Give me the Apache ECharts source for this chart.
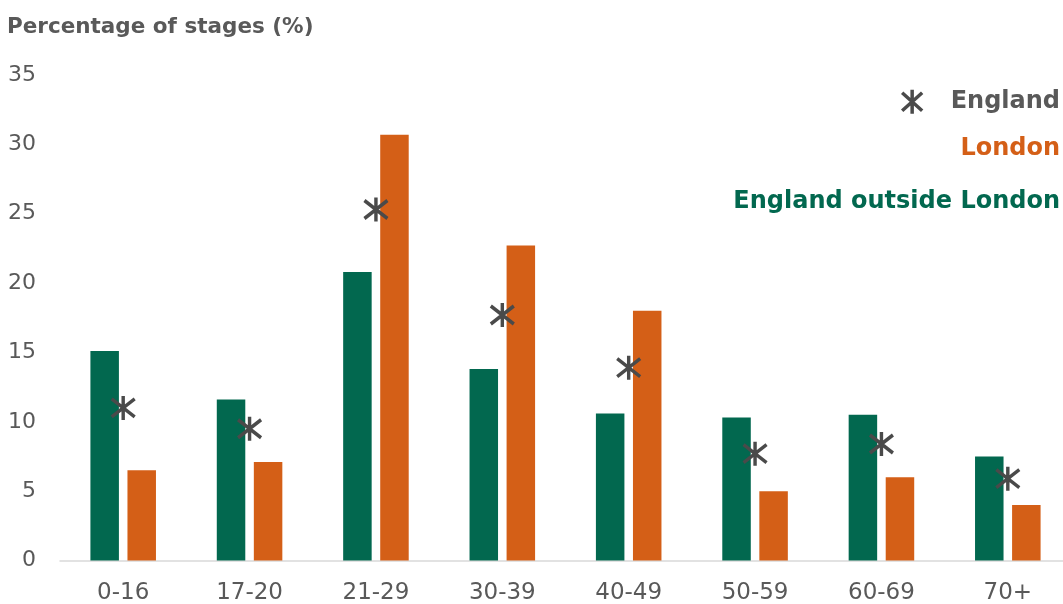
<!DOCTYPE html>
<html>
<head>
<meta charset="utf-8">
<script src="https://cdn.jsdelivr.net/npm/echarts@6/dist/echarts.min.js"></script>
<style>
  html, body { margin: 0; padding: 0; background: #ffffff; }
  #chart { width: 1063px; height: 604px; }
</style>
</head>
<body>
<div id="chart"></div>
<script>
// Age bands of people at each stage
const ageBands = ['0-16', '17-20', '21-29', '30-39', '40-49', '50-59', '60-69', '70+'];

// Share of stages by age band (%)
const outsideLondon = [15.1, 11.6, 20.8, 13.8, 10.6, 10.3, 10.5, 7.5];
const london        = [6.5, 7.1, 30.7, 22.7, 18.0, 5.0, 6.0, 4.0];
const england       = [11.0, 9.5, 25.3, 17.7, 13.9, 7.7, 8.4, 5.9];

// Value axis ticks
const yTicks = [0, 5, 10, 15, 20, 25, 30, 35];

const GREEN = '#02684F';
const ORANGE = '#D45F17';
const GREY = '#4a4a4a';
const TEXT = '#595959';
const FONT = '"DejaVu Sans", "Liberation Sans", sans-serif';

// Asterisk marker: one vertical stroke crossed by two diagonals
const STAR = 'path://M2,3L22,21M22,3L2,21M12,0L12,24';

const chart = echarts.init(document.getElementById('chart'), null, { renderer: 'canvas' });

chart.setOption({
  animation: false,
  backgroundColor: '#ffffff',
  title: {
    text: 'Percentage of stages (%)',
    left: 7,
    top: 15,
    padding: 0,
    textStyle: { color: TEXT, fontFamily: FONT, fontWeight: 'bold', fontSize: 21.5, lineHeight: 24 }
  },
  legend: [
    {
      right: 3, top: 88, padding: 0,
      itemWidth: 23, itemHeight: 24,
      data: [{
        name: 'England',
        icon: STAR,
        itemStyle: { color: 'rgba(0,0,0,0)', borderColor: GREY, borderWidth: 3.5 }
      }],
      textStyle: { color: TEXT, fontFamily: FONT, fontWeight: 'bold', fontSize: 24, lineHeight: 24, padding: [0, 0, 0, 22] }
    },
    {
      right: 3, top: 137, padding: 0,
      itemWidth: 0, itemHeight: 24,
      data: [{ name: 'London', icon: 'none' }],
      textStyle: { color: ORANGE, fontFamily: FONT, fontWeight: 'bold', fontSize: 24, lineHeight: 24 }
    },
    {
      right: 3, top: 190, padding: 0,
      itemWidth: 0, itemHeight: 24,
      data: [{ name: 'England outside London', icon: 'none' }],
      textStyle: { color: GREEN, fontFamily: FONT, fontWeight: 'bold', fontSize: 24, lineHeight: 24 }
    }
  ],
  grid: { left: 60, width: 1011, top: 75, height: 485.5, containLabel: false, outerBoundsMode: 'none' },
  xAxis: {
    type: 'category',
    data: ageBands,
    axisTick: { show: false },
    axisLine: { show: true, lineStyle: { color: '#d9d9d9', width: 1.5 } },
    axisLabel: { color: TEXT, fontFamily: FONT, fontSize: 23, margin: 21 }
  },
  yAxis: {
    type: 'value',
    min: yTicks[0],
    max: yTicks[yTicks.length - 1],
    interval: yTicks[1] - yTicks[0],
    axisLine: { show: false },
    axisTick: { show: false },
    splitLine: { show: false },
    axisLabel: { color: TEXT, fontFamily: FONT, fontSize: 22, margin: 24 }
  },
  series: [
    {
      name: 'England outside London',
      type: 'bar',
      data: outsideLondon,
      barWidth: 28.5,
      barGap: '30%',
      itemStyle: { color: GREEN }
    },
    {
      name: 'London',
      type: 'bar',
      data: london,
      barWidth: 28.5,
      barGap: '30%',
      itemStyle: { color: ORANGE }
    },
    {
      name: 'England',
      type: 'scatter',
      data: england,
      symbol: STAR,
      symbolSize: [23, 24],
      itemStyle: { color: 'rgba(0,0,0,0)', borderColor: GREY, borderWidth: 3.5, opacity: 1 },
      z: 5
    }
  ]
});
</script>
</body>
</html>
